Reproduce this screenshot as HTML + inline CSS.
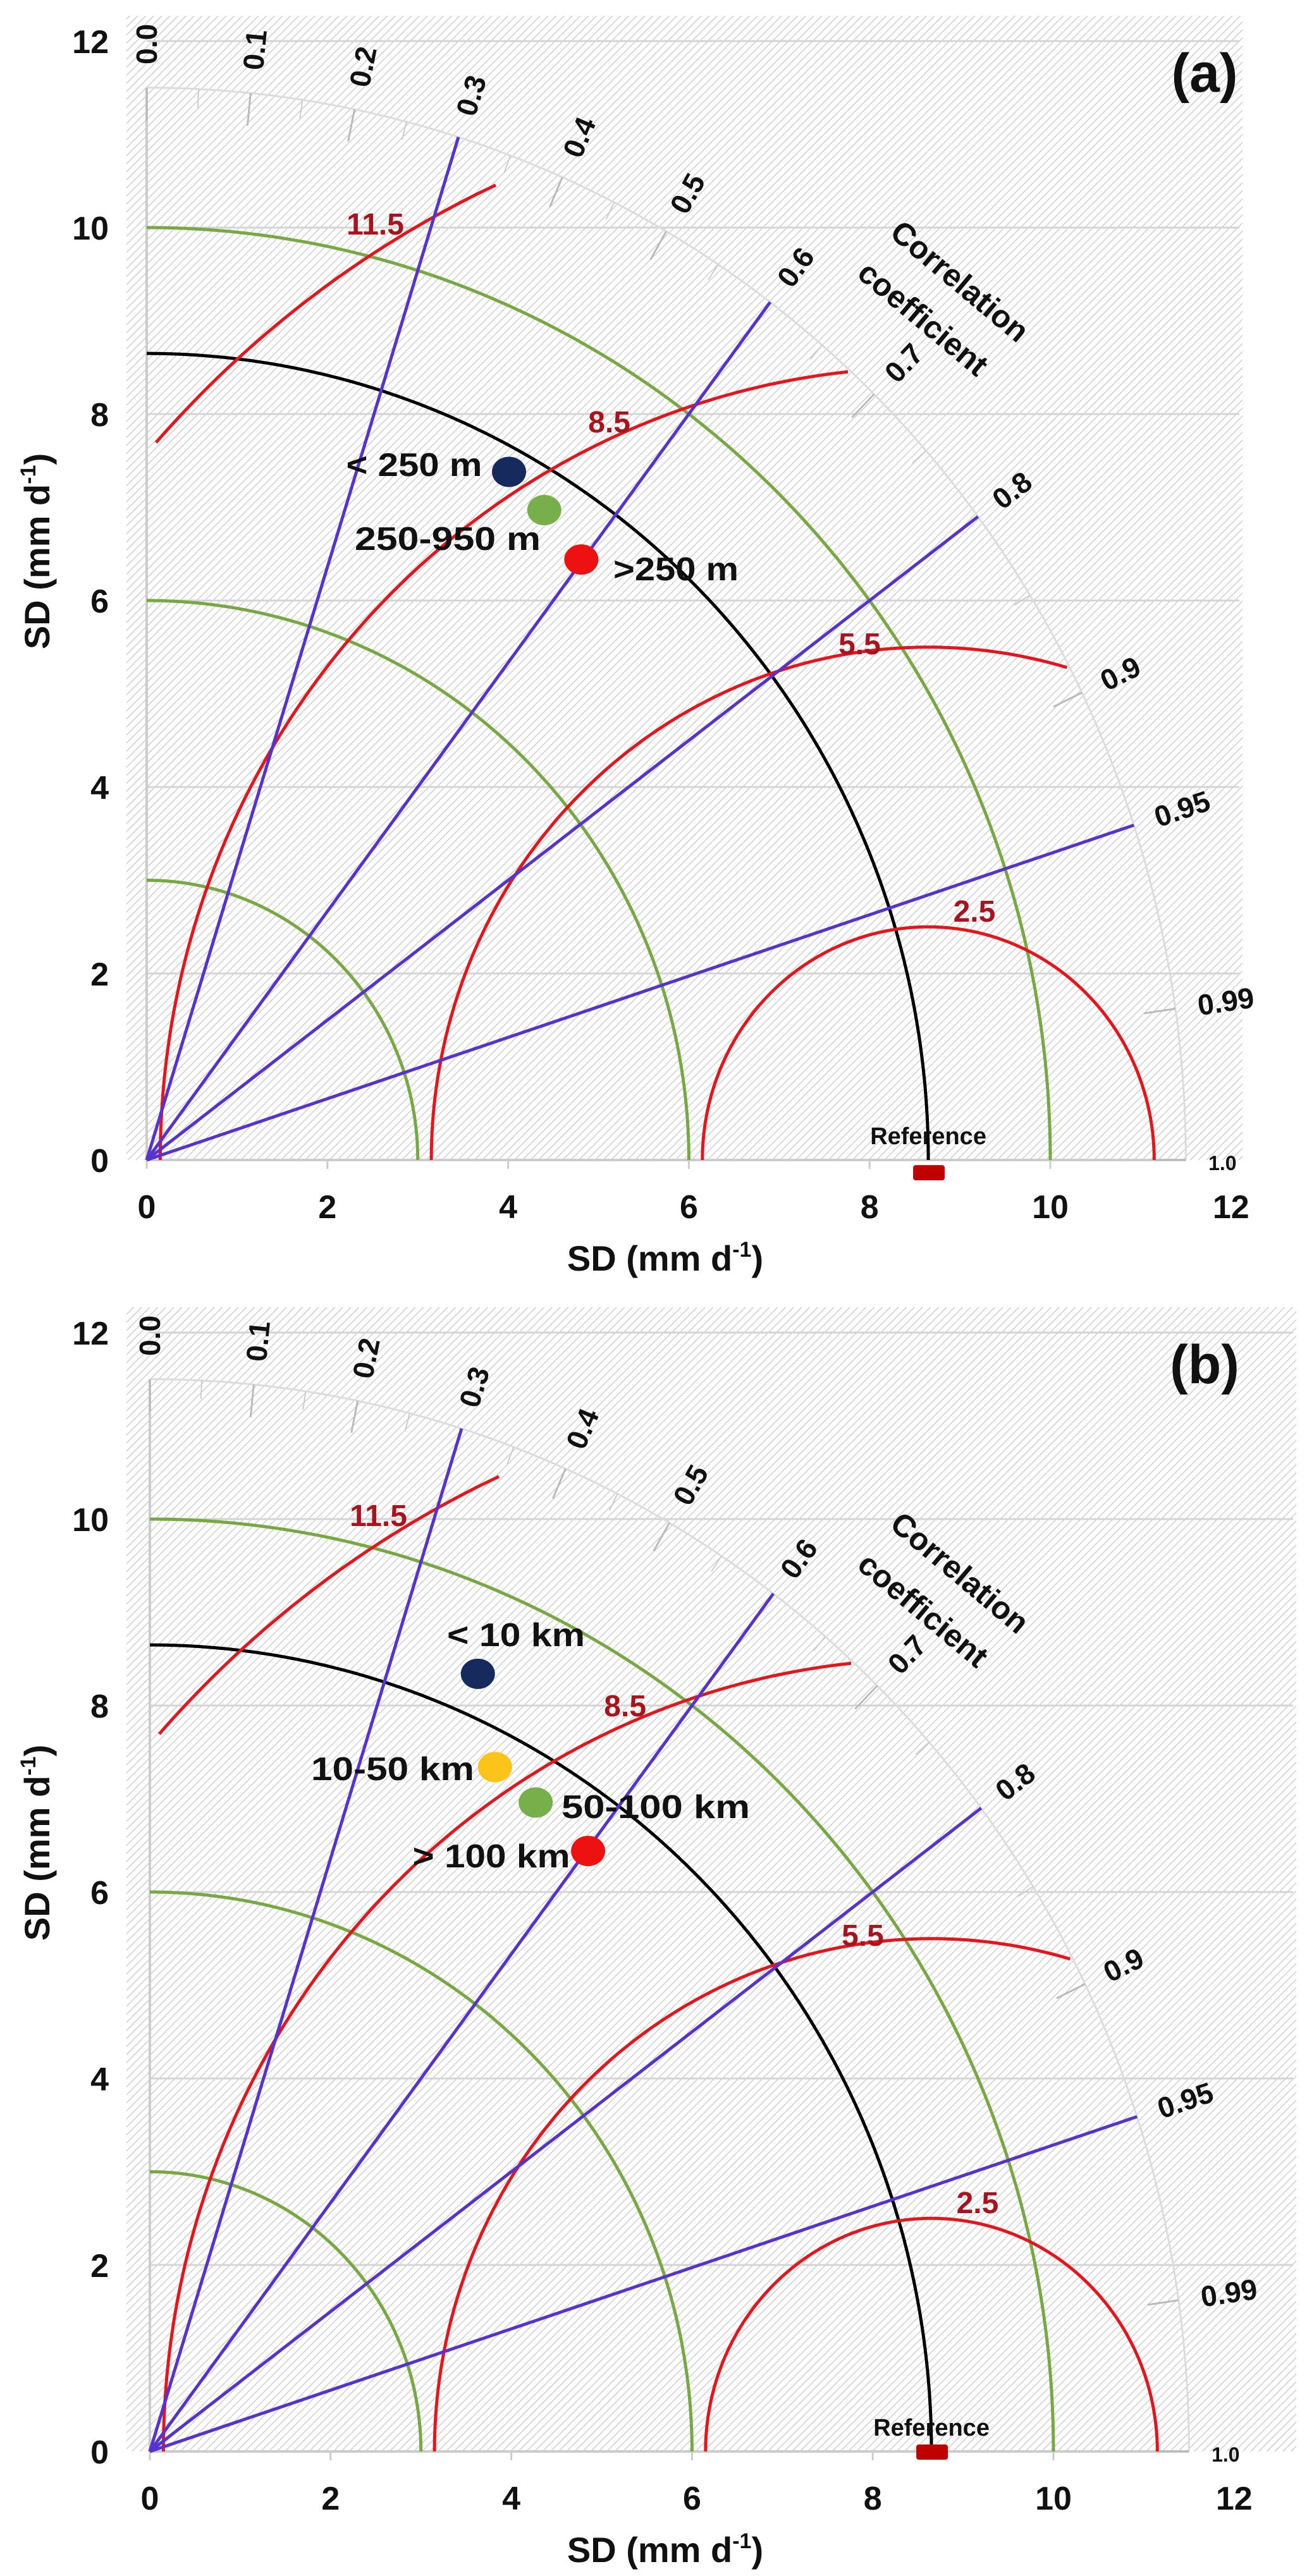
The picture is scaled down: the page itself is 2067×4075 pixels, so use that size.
<!DOCTYPE html>
<html><head><meta charset="utf-8">
<style>
html,body{margin:0;padding:0;background:#fff;}
svg{display:block;font-family:"Liberation Sans",sans-serif;font-weight:bold;}
</style></head>
<body>
<svg id="chart" width="2067" height="4075" viewBox="0 0 2067 4075" xmlns="http://www.w3.org/2000/svg">
<defs>
<pattern id="hatch" patternUnits="userSpaceOnUse" width="9" height="9" patternTransform="rotate(45)">
<rect width="9" height="9" fill="#fff"/>
<line x1="0" y1="0" x2="0" y2="9" stroke="#cfcfcf" stroke-width="3"/>
</pattern>
</defs>
</svg>
<script>
// shared chart values
const xTicks = [0, 2, 4, 6, 8, 10, 12];
const yTicks = [0, 2, 4, 6, 8, 10, 12];
const corrLineValues = [0.3, 0.6, 0.8, 0.95];
const corrTickLabels = ["0.0","0.1","0.2","0.3","0.4","0.5","0.6","0.7","0.8","0.9","0.95","0.99","1.0"];
const corrTickValues = [0.0,0.1,0.2,0.3,0.4,0.5,0.6,0.7,0.8,0.9,0.95,0.99,1.0];
const stdCircles = [3, 6, 10];
const refSD = 8.65;
const rmsRadii = [2.5, 5.5, 8.5, 11.5];
const rmsMaxR = [11.5, 11.5, 11.5, 11.23];
const rmsLabels = ["2.5", "5.5", "8.5", "11.5"];
const maxSD = 11.5;
// panel a
const aNames = ["< 250 m", "250-950 m", ">250 m"];
const aSDx = [4.01, 4.40, 4.81];
const aSDy = [7.38, 6.97, 6.44];
const aColors = ["#172a5e", "#77b04a", "#ee1111"];
// panel b
const bNames = ["< 10 km", "10-50 km", "50-100 km", "> 100 km"];
const bSDx = [3.63, 3.82, 4.27, 4.85];
const bSDy = [8.34, 7.34, 6.96, 6.44];
const bColors = ["#172a5e", "#fcc419", "#77b04a", "#ee1111"];

const NS = "http://www.w3.org/2000/svg";
const svg = document.getElementById("chart");
function mk(tag, attrs, parent, text) {
  const e = document.createElementNS(NS, tag);
  for (const k in attrs) e.setAttribute(k, attrs[k]);
  if (text !== undefined) e.textContent = text;
  (parent || svg).appendChild(e);
  return e;
}

function panel(cfg) {
  const g = mk("g", {});
  
  
  const SX = 142.9, SY = 147.5;
  const X = v => cfg.x0 + v * SX;
  const Y = v => cfg.y0 - v * SY;
  const bg = mk("rect", {x: 200, y: cfg.y0 - 1810, width: cfg.bgRight - 200, height: 1810, fill: "url(#hatch)"}, g);
  
  
  yTicks.forEach(t => {
    if (t === 0) return;
    const l = mk("line", {x1: X(0), x2: cfg.bgRight - 5, y1: Y(t), y2: Y(t), stroke: "#d4d4d4", "stroke-width": 3}, g);
    
    
  });
  const ax = mk("line", {x1: X(0), x2: X(maxSD), y1: Y(0), y2: Y(0), stroke: "#cccccc", "stroke-width": 4}, g);
  
  
  const ay = mk("line", {x1: X(0), x2: X(0), y1: Y(0), y2: Y(maxSD), stroke: "#cccccc", "stroke-width": 4}, g);
  
  
  xTicks.forEach(t => {
    const tx = mk("text", {x: X(t), y: cfg.y0 + 92, "font-size": 52, "text-anchor": "middle", fill: "#111"}, g, String(t));
    
    
    const tk = mk("line", {x1: X(t), x2: X(t), y1: Y(0), y2: Y(0) + 14, stroke: "#ccc", "stroke-width": 3}, g);
    
    
  });
  yTicks.forEach(t => {
    const ty = mk("text", {x: 172, y: Y(t) + 19, "font-size": 52, "text-anchor": "end", fill: "#111"}, g, String(t));
    
    
  });
  const xt = mk("text", {x: 1052, y: cfg.y0 + 175, "font-size": 56, "text-anchor": "middle", fill: "#111"}, g);
  
  
  xt.appendChild(document.createTextNode("SD (mm d"));
  mk("tspan", {dy: -22, "font-size": 34}, xt, "-1");
  mk("tspan", {dy: 22}, xt, ")");
  const yt = mk("text", {x: 0, y: 0, "font-size": 56, "text-anchor": "middle", fill: "#111", transform: `translate(78,${cfg.y0 - 963}) rotate(-90)`}, g);
  
  
  yt.appendChild(document.createTextNode("SD (mm d"));
  mk("tspan", {dy: -22, "font-size": 34}, yt, "-1");
  mk("tspan", {dy: 22}, yt, ")");

  function arcPath(cx, cy, r, a0, a1, filter) {
    let d = "", started = false;
    const n = 300;
    for (let i = 0; i <= n; i++) {
      const a = a0 + (a1 - a0) * i / n;
      const px = cx + r * Math.cos(a), py = cy + r * Math.sin(a);
      if (filter && !filter(px, py)) { started = false; continue; }
      d += (started ? "L" : "M") + X(px).toFixed(1) + " " + Y(py).toFixed(1);
      started = true;
    }
    return d;
  }
  const oa = mk("path", {d: arcPath(0, 0, maxSD, 0, Math.PI / 2), fill: "none", stroke: "#dcdcdc", "stroke-width": 3}, g);
  
  
  corrTickValues.forEach((c, i) => {
    const a = Math.acos(c);
    const tk = mk("line", {x1: X(maxSD * Math.cos(a)), y1: Y(maxSD * Math.sin(a)), x2: X((maxSD - 0.35) * Math.cos(a)), y2: Y((maxSD - 0.35) * Math.sin(a)), stroke: "#bbb", "stroke-width": 3}, g);
    
    
    const r0 = 11.75;
    const lx = X(r0 * Math.cos(a)), ly = Y(r0 * Math.sin(a));
    const deg = -Math.atan2(SY * Math.sin(a), SX * Math.cos(a)) * 180 / Math.PI;
    const lt = mk("text", {x: 0, y: 0, "font-size": c === 1 ? 32 : 46, fill: "#111", transform: `translate(${lx},${ly}) rotate(${deg}) translate(0,16)`}, g, corrTickLabels[i]);
    
    
  });
  for (let c = 0.05; c < 0.99; c += 0.1) {
    const a = Math.acos(c);
    const mt = mk("line", {x1: X(maxSD * Math.cos(a)), y1: Y(maxSD * Math.sin(a)), x2: X((maxSD - 0.2) * Math.cos(a)), y2: Y((maxSD - 0.2) * Math.sin(a)), stroke: "#ccc", "stroke-width": 2}, g);
    
    
  }
  const ct = mk("text", {x: 0, y: 0, "font-size": 50, fill: "#111", "text-anchor": "middle", transform: `translate(1507,${cfg.y0 - 1377}) rotate(40)`}, g, "Correlation");
  
  
  const ct2 = mk("text", {x: 0, y: 0, "font-size": 50, fill: "#111", "text-anchor": "middle", transform: `translate(1449,${cfg.y0 - 1318}) rotate(40)`}, g, "coefficient");
  
  

  stdCircles.forEach(r => {
    const p = mk("path", {d: arcPath(0, 0, r, 0, Math.PI / 2), fill: "none", stroke: "#77a843", "stroke-width": 5}, g);
    
    
  });
  const bc = mk("path", {d: arcPath(0, 0, refSD, 0, Math.PI / 2), fill: "none", stroke: "#000", "stroke-width": 5}, g);
  
  
  rmsRadii.forEach((r, i) => {
    const lim = rmsMaxR[i];
    const p = mk("path", {d: arcPath(refSD, 0, r, 0, Math.PI, (px, py) => py >= 0 && px >= 0.1 && Math.hypot(px, py) <= lim), fill: "none", stroke: "#e3161e", "stroke-width": 5}, g);
    
    
  });
  corrLineValues.forEach(c => {
    const a = Math.acos(c);
    const l = mk("line", {x1: X(0), y1: Y(0), x2: X(maxSD * Math.cos(a)), y2: Y(maxSD * Math.sin(a)), stroke: "#5533cc", "stroke-width": 5}, g);
    
    
  });
  cfg.rmsLabelPos.forEach((pos, i) => {
    const t = mk("text", {x: X(pos[0]), y: Y(pos[1]) + 17, "font-size": 48, fill: "#a8141e", "text-anchor": "middle"}, g, rmsLabels[i]);
    
    
  });
  const rf = mk("rect", {x: X(refSD) - 24, y: Y(cfg.refY) - 11, width: 50, height: 24, rx: 4, fill: "#c00000"}, g);
  
  
  const rl = mk("text", {x: X(refSD), y: Y(0) - 25, "font-size": 38, "text-anchor": "middle", fill: "#111"}, g, "Reference");
  
  
  cfg.names.forEach((nm, i) => {
    const p = mk("ellipse", {cx: X(cfg.sx[i]), cy: Y(cfg.sy[i]), rx: 27, ry: 24, fill: cfg.colors[i]}, g);
    
    
    const lp = cfg.labelPos[i];
    const t = mk("text", {x: lp[0], y: lp[1] + 18, "font-size": 52, fill: "#111", "text-anchor": "middle", textLength: lp[2], lengthAdjust: "spacingAndGlyphs"}, g, nm);
    
    
  });
  const pl = mk("text", {x: 1905, y: cfg.y0 - 1690, "font-size": 86, "text-anchor": "middle", fill: "#111"}, g, cfg.letter);
  
  
}

panel({name: "panel-a", letter: "(a)", x0: 232, y0: 1835, bgRight: 1965,
  names: aNames, sx: aSDx, sy: aSDy, colors: aColors, refY: -0.13,
  labelPos: [[655, 735, 215], [708, 852, 294], [1069, 900, 198]],
  rmsLabelPos: [[9.16, 2.67], [7.89, 5.54], [5.12, 7.92], [2.53, 10.04]]});
panel({name: "panel-b", letter: "(b)", x0: 237, y0: 3878, bgRight: 2050,
  names: bNames, sx: bSDx, sy: bSDy, colors: bColors, refY: 0,
  labelPos: [[816, 2586, 218], [621, 2798, 258], [1037, 2858, 298], [777, 2936, 249]],
  rmsLabelPos: [[9.16, 2.67], [7.89, 5.54], [5.26, 8.0], [2.53, 10.04]]});
</script>
</body></html>
